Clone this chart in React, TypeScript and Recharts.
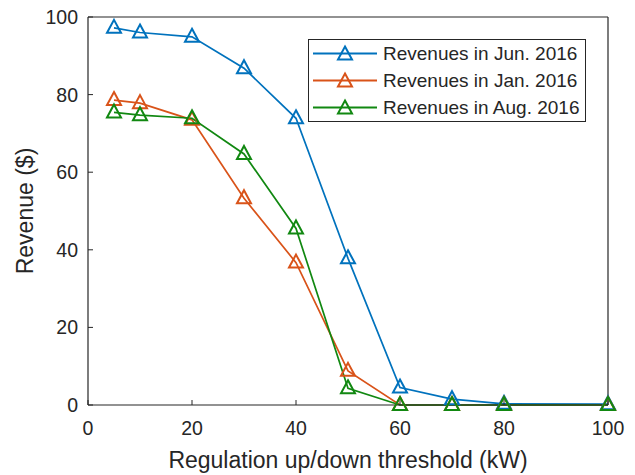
import { Label, Line, LineChart, XAxis, YAxis } from "recharts";

const thresholds = [5, 10, 20, 30, 40, 50, 60, 70, 80, 100];
const revenueJun = [97.2, 96.0, 94.9, 86.8, 73.9, 37.8, 4.5, 1.5, 0.3, 0.2];
const revenueJan = [78.6, 77.8, 73.5, 53.3, 36.7, 8.8, 0, 0, 0, 0];
const revenueAug = [75.4, 74.7, 73.9, 64.7, 45.5, 4.3, 0, 0, 0, 0];
const axisTicks = [0, 20, 40, 60, 80, 100];

const FONT = '"Liberation Sans", Arial, Helvetica, sans-serif';
const INK = "#262626";

const SERIES = [
  { key: "jun", name: "Revenues in Jun. 2016", color: "#0072BD" },
  { key: "jan", name: "Revenues in Jan. 2016", color: "#D95319" },
  { key: "aug", name: "Revenues in Aug. 2016", color: "#118811" }
];

const data = thresholds.map((t, i) => ({
  threshold: t,
  jun: revenueJun[i],
  jan: revenueJan[i],
  aug: revenueAug[i]
}));

function trianglePath(cx: number, cy: number) {
  return `M${cx},${cy - 8} L${cx + 7},${cy + 5} L${cx - 7},${cy + 5} Z`;
}

// boxed legend in the upper right of the axes
function TriangleLegend() {
  return (
    <div
      style={{
        position: "absolute",
        left: 308,
        top: 39,
        border: `1.3px solid ${INK}`,
        background: "#fff",
        width: 276,
        fontFamily: FONT,
        fontSize: 19,
        color: INK
      }}
    >
      {SERIES.map((s) => (
        <div
          key={s.key}
          style={{ display: "flex", alignItems: "center", height: 27 }}
        >
          <svg width={74} height={27} style={{ flex: "none" }}>
            <line x1={4} x2={68} y1={13.5} y2={13.5} stroke={s.color} strokeWidth={1.8} />
            <path d={trianglePath(36, 14.5)} fill="none" stroke={s.color} strokeWidth={2} />
          </svg>
          <span style={{ whiteSpace: "nowrap" }}>{s.name}</span>
        </div>
      ))}
    </div>
  );
}

export default function App() {
  return (
    <div
      style={{
        position: "absolute",
        left: 0,
        top: 0,
        width: 635,
        height: 475,
        background: "#fff",
        fontFamily: FONT
      }}
    >
      <LineChart
        width={635}
        height={475}
        data={data}
        margin={{ top: 12, right: 22, left: 0, bottom: 0 }}
      >
        <XAxis
          dataKey="threshold"
          type="number"
          domain={[0, 100]}
          ticks={axisTicks}
          height={70}
          tickSize={-5}
          tickMargin={21}
          axisLine={{ stroke: INK, strokeWidth: 1.2 }}
          tickLine={{ stroke: INK }}
          tick={{ fill: INK, fontSize: 19.5, fontFamily: FONT }}
        >
          <Label
            content={({ viewBox }: any) => (
              <text
                x={viewBox.x + viewBox.width / 2}
                y={468}
                textAnchor="middle"
                fill={INK}
                fontSize={23}
                fontFamily={FONT}
              >
                Regulation up/down threshold (kW)
              </text>
            )}
          />
        </XAxis>
        <XAxis
          xAxisId="top"
          orientation="top"
          dataKey="threshold"
          type="number"
          domain={[0, 100]}
          ticks={axisTicks}
          height={5}
          tickSize={-5}
          tick={false}
          axisLine={{ stroke: INK, strokeWidth: 1.2 }}
          tickLine={{ stroke: INK }}
        />
        <YAxis
          type="number"
          domain={[0, 100]}
          ticks={axisTicks}
          width={88}
          tickSize={-5}
          tickMargin={15}
          axisLine={{ stroke: INK, strokeWidth: 1.2 }}
          tickLine={{ stroke: INK }}
          tick={{ fill: INK, fontSize: 19.5, fontFamily: FONT }}
        >
          <Label
            content={({ viewBox }: any) => {
              const cy = viewBox.y + viewBox.height / 2;
              return (
                <text
                  x={25}
                  y={cy}
                  transform={`rotate(-90, 25, ${cy})`}
                  textAnchor="middle"
                  dominantBaseline="central"
                  fill={INK}
                  fontSize={23}
                  fontFamily={FONT}
                >
                  Revenue ($)
                </text>
              );
            }}
          />
        </YAxis>
        <YAxis
          yAxisId="right"
          orientation="right"
          type="number"
          domain={[0, 100]}
          ticks={axisTicks}
          width={5}
          tickSize={-5}
          tick={false}
          axisLine={{ stroke: INK, strokeWidth: 1.2 }}
          tickLine={{ stroke: INK }}
        />
        {SERIES.map((s) => (
          <Line
            key={s.key}
            dataKey={s.key}
            name={s.name}
            type="linear"
            stroke={s.color}
            strokeWidth={1.7}
            isAnimationActive={false}
            dot={(p: any) => (
              <path
                key={`${s.key}-${p.index}`}
                d={trianglePath(p.cx, p.cy)}
                fill="none"
                stroke={s.color}
                strokeWidth={2}
              />
            )}
            activeDot={false}
          />
        ))}
      </LineChart>
      <TriangleLegend />
    </div>
  );
}
